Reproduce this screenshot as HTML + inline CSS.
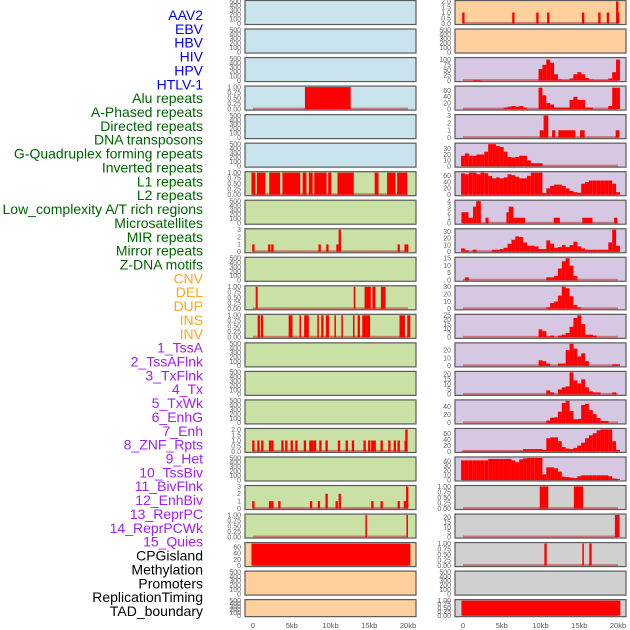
<!DOCTYPE html>
<html><head><meta charset="utf-8">
<style>
html,body{margin:0;padding:0;background:#fff;}
svg{display:block;font-family:"Liberation Sans",sans-serif;}
</style></head>
<body>
<svg id="chart" width="630" height="630" viewBox="0 0 630 630" xmlns="http://www.w3.org/2000/svg">
<g id="labels" font-size="14" text-anchor="end"></g>
<g id="panels"></g>
<g id="xaxis" font-size="7.5" fill="#555" text-anchor="middle"></g>
</svg>
<script>
// ---------- labels ----------
const labelNames = ["AAV2","EBV","HBV","HIV","HPV","HTLV-1","Alu repeats","A-Phased repeats","Directed repeats","DNA transposons","G-Quadruplex forming repeats","Inverted repeats","L1 repeats","L2 repeats","Low_complexity A/T rich regions","Microsatellites","MIR repeats","Mirror repeats","Z-DNA motifs","CNV","DEL","DUP","INS","INV","1_TssA","2_TssAFlnk","3_TxFlnk","4_Tx","5_TxWk","6_EnhG","7_Enh","8_ZNF_Rpts","9_Het","10_TssBiv","11_BivFlnk","12_EnhBiv","13_ReprPC","14_ReprPCWk","15_Quies","CPGisland","Methylation","Promoters","ReplicationTiming","TAD_boundary"];
const labelGroups = [6,13,5,15,5];
const groupColors = ["#0000ff","#006400","#ffa520","#a020f0","#000000"];

// ---------- x axis ----------
const xTickValues = [0,5,10,15,20];
const xTickLabels = ["0","5kb","10kb","15kb","20kb"];

// ---------- tick sets ----------
const ticksEmpty = [0,100,200,300,400,500];
const ticksUnit = [0,0.25,0.5,0.75,1];
const ticksUnitLbl = ["0.00","0.25","0.50","0.75","1.00"];
const ticksHalf = [0,0.5,1,1.5,2];
const ticksHalfLbl = ["0.0","0.5","1.0","1.5","2.0"];

// ---------- left column data (bars: start kb, end kb, value) ----------
const aluStarts=[6.7], aluEnds=[12.6], aluValues=[1];
const l1LeftStarts=[-0.2,0.5,2.1,3.8,6.4,7.2,7.9,9.7,10.9,15.7,17.3,18.6];
const l1LeftEnds=[0.3,1.6,3.5,6.1,6.9,7.7,9.5,10.1,13.0,16.2,18.4,19.9];
const l1LeftValues=[1,1,1,1,1,1,1,1,1,1,1,1];
const lowCxLeftPos=[0.05,2.1,2.5,8.6,9.6,10.9,11.2,18.8,19.7,19.9];
const lowCxLeftValues=[1,1,1,1,1,1,3,1,1,1];
const mirLeftStarts=[0.35,13.0,14.4,15.4,16.5], mirLeftEnds=[0.6,13.2,15.2,15.8,17.1], mirLeftValues=[1,1,1,1,1];
const zdnaLeftStarts=[0.6,1.0,4.6,6.0,6.6,8.3,8.8,9.4,10.5,11.4,12.9,13.5,14.1,14.7,18.9,19.9];
const zdnaLeftEnds=[0.9,1.3,5.1,6.2,7.2,8.5,9.1,9.8,10.7,11.6,13.1,13.8,14.7,15.1,19.6,20.3];
const zdnaLeftValues=[1,1,1,1,1,1,1,1,1,1,1,1,1,1,1,1];
const txwkPos=[0.05,0.7,1.2,2.2,2.5,3.8,4.3,5.0,5.6,6.7,7.4,7.7,8.0,8.7,9.5,11.1,12.1,12.9,14.4,15.0,15.4,15.7,16.6,17.6,18.3,18.8,19.7,19.8];
const txwkValues=[1,1,1,1,1,1,1,1,1,1,1,1,1,1,1,1,1,1,1,1,1,1,1,1,1,1,1,2];
const enhPos=[0.05,2.2,2.5,3.4,7.5,8.5,9.5,10.8,11.2,15.4,16.6,18.8,19.6,19.9];
const enhValues=[1,1,1,1,1,1,2,1,2,1,1,1,1,3];
const het2Starts=[14.5,19.8], het2Ends=[14.7,20.0], het2Values=[1,1];
const cpgLeftStarts=[-0.2], cpgLeftEnds=[20.3], cpgLeftValues=[72];

// ---------- right column data ----------
const aav2Pos=[0.05,6.5,9.6,11.0,15.5,17.6,18.7,19.9,20.0];
const aav2Values=[1,1,1,1,1,1,1,2,1];
// profiles: one value per 0.5 kb bin, kb 0..20
const hivValues=[0,0,0,3,3,0,0,0,0,0,0,0,0,0,0,0,0,0,0,0,55,75,100,85,30,5,3,3,10,30,40,30,12,5,3,3,3,3,10,40,100];
const hpvValues=[0,0,0,0,0,0,0,0,0,0,0,5,8,10,8,10,5,0,0,0,70,45,20,15,5,5,5,5,30,40,30,30,5,5,0,0,0,0,10,70,70];
const directedStarts=[9.9,10.4,11.5,12.3,15.1,19.7], directedEnds=[10.4,11.0,11.9,14.5,15.7,20.2], directedValues=[1,3,1,1,1,1];
const dnaValues=[18,22,18,18,20,20,25,38,38,35,33,25,16,15,16,18,18,10,5,5,5,0,0,0,0,0,0,0,0,0,0,0,0,0,0,0,0,0,0,0,0];
const l1Values=[68,65,70,70,65,70,68,60,52,55,52,55,65,62,57,52,52,60,70,70,70,5,20,28,32,32,28,20,12,8,6,35,40,45,45,45,45,45,45,35,8];
const l2Starts=[-0.2,0.7,1.3,1.7,2.9,5.6,5.9,6.5,11.7,15.4,19.5], l2Ends=[0.7,1.3,1.7,2.3,3.3,5.9,6.5,8.0,12.5,16.7,19.9], l2Values=[2,1,3,4,1,2,3,1,1,1,1];
const mirValues=[5,2,0,3,0,0,0,0,3,3,4,6,12,18,23,22,14,9,9,8,4,4,17,12,6,7,10,7,10,15,8,5,3,3,3,3,3,3,14,33,9];
const mirrorValues=[0,2,0,0,0,0,0,0,0,0,0,0,0,0,0,0,0,0,0,0,0,0,2,2,3,8,13,15,10,3,0,0,0,0,0,0,0,0,0,0,0];
const cnvValues=[0,0,0,0,0,0,0,0,0,0,0,0,0,0,0,0,0,0,0,0,0,0,2,8,10,18,30,28,17,5,2,0,0,0,0,0,0,0,0,0,0];
const delValues=[0,0,0,0,0,0,0,0,0,0,0,0,0,0,0,0,0,0,0,0,9,7,1,2,0,2,3,5,12,22,25,15,3,3,2,0,0,0,0,0,0];
const dupValues=[0,0,0,0,0,0,0,0,0,0,0,0,0,0,0,0,0,0,0,0,7,6,3,0,0,3,3,20,28,22,12,16,6,0,0,0,0,0,0,2,2];
const insValues=[0,0,0,0,0,0,0,0,0,0,0,0,0,0,0,0,0,0,0,0,0,0,4,2,0,5,7,8,22,14,11,15,7,3,2,2,0,0,0,2,0];
const invValues=[0,0,0,0,0,0,0,0,0,0,0,0,0,0,0,0,0,0,0,0,0,0,6,13,14,28,50,55,30,9,10,45,48,32,22,12,5,5,0,0,0];
const tssaValues=[2,2,2,2,2,2,2,2,2,2,2,2,2,2,2,2,8,8,8,8,8,5,45,48,48,35,15,10,8,12,20,30,45,55,62,72,75,75,75,35,5];
const tssaFlnkValues=[42,42,42,42,42,42,42,45,45,45,45,45,45,42,38,44,46,47,47,47,47,12,27,27,25,18,7,6,5,4,8,10,10,10,10,10,10,10,8,3,2];
const txFlnkStarts=[9.9,14.3], txFlnkEnds=[11.0,15.5], txFlnkValues=[1,1];
const txStarts=[19.6], txEnds=[20.2], txValues=[22];
const cpgRightStarts=[10.5,15.4,16.3], cpgRightEnds=[10.8,15.6,16.6], cpgRightValues=[1,1,1];
const tadStarts=[-0.2], tadEnds=[20.3], tadValues=[1];

// ---------- layout ----------
const NS="http://www.w3.org/2000/svg";
const colX=[245,455], colW=171;
function xScale(col,kb){return colX[col]+8+kb*7.75;}
function rowTop(r){return 0.5+28.53*r;}
function rowH(r){return r===21?17:24;}
const BLUE="#c8e3ec",GREEN="#c9e1a4",PEACH="#ffd09e",LAV="#d6c7e3",GREY="#d0d0d0";

function mk(tag,attrs,parent){const e=document.createElementNS(NS,tag);for(const k in attrs)e.setAttribute(k,attrs[k]);parent.appendChild(e);return e;}

// labels
const lg=document.getElementById('labels');
let gi=0,cnt=0;
labelNames.forEach((n,i)=>{
  if(cnt>=labelGroups[gi]){gi++;cnt=0;}
  cnt++;
  const t=mk('text',{x:203,y:(20+13.86*i).toFixed(1),fill:groupColors[gi]},lg);
  
  
  t.textContent=n;
});

// panel definitions
const E={type:'empty',ymax:500,ticks:ticksEmpty};
function bars(s,e,v,ymax,ticks,lbl){return {type:'bars',starts:s,ends:e,values:v,ymax,ticks,lbl};}
function pins(p,v,ymax,ticks,lbl){return {type:'pins',pos:p,values:v,ymax,ticks,lbl};}
function prof(v,ymax,ticks){return {type:'profile',values:v,ymax,ticks};}
const leftPanels=[E,E,E,
  bars(aluStarts,aluEnds,aluValues,1,ticksUnit,ticksUnitLbl),E,E,
  bars(l1LeftStarts,l1LeftEnds,l1LeftValues,1,ticksUnit,ticksUnitLbl),E,
  pins(lowCxLeftPos,lowCxLeftValues,3,[0,1,2,3]),E,
  bars(mirLeftStarts,mirLeftEnds,mirLeftValues,1,ticksUnit,ticksUnitLbl),
  bars(zdnaLeftStarts,zdnaLeftEnds,zdnaLeftValues,1,ticksUnit,ticksUnitLbl),E,E,E,
  pins(txwkPos,txwkValues,2,ticksHalf,ticksHalfLbl),E,
  pins(enhPos,enhValues,3,[0,1,2,3]),
  bars(het2Starts,het2Ends,het2Values,1,ticksUnit,ticksUnitLbl),
  bars(cpgLeftStarts,cpgLeftEnds,cpgLeftValues,72,[0,20,40,60]),E,E];
const rightPanels=[
  pins(aav2Pos,aav2Values,2,ticksHalf,ticksHalfLbl),E,
  prof(hivValues,105,[0,25,50,75,100]),
  prof(hpvValues,72,[0,20,40,60]),
  bars(directedStarts,directedEnds,directedValues,3,[0,1,2,3]),
  prof(dnaValues,38,[0,10,20,30]),
  prof(l1Values,70,[0,20,40,60]),
  bars(l2Starts,l2Ends,l2Values,4,[0,1,2,3,4]),
  prof(mirValues,33,[0,10,20,30]),
  prof(mirrorValues,15,[0,5,10,15]),
  prof(cnvValues,30,[0,10,20,30]),
  prof(delValues,25,[0,5,10,15,20,25]),
  prof(dupValues,28,[0,10,20]),
  prof(insValues,22,[0,5,10,15,20]),
  prof(invValues,55,[0,20,40]),
  prof(tssaValues,75,[0,20,40,60]),
  prof(tssaFlnkValues,47,[0,10,20,30,40]),
  bars(txFlnkStarts,txFlnkEnds,txFlnkValues,1,ticksUnit,ticksUnitLbl),
  bars(txStarts,txEnds,txValues,22,[0,5,10,15,20]),
  bars(cpgRightStarts,cpgRightEnds,cpgRightValues,1,ticksUnit,ticksUnitLbl),E,
  bars(tadStarts,tadEnds,tadValues,1,ticksUnit,ticksUnitLbl)];

function bgFor(col,r){
  if(col===0)return r<6?BLUE:(r<19?GREEN:PEACH);
  return r<2?PEACH:(r<17?LAV:GREY);
}

const pg=document.getElementById('panels');
function drawPanel(col,r,p){
  const top=rowTop(r),h=rowH(r),x0=colX[col];
  const g=mk('g',{},pg);
  
  
  const bg=mk('rect',{x:x0,y:top,width:colW,height:h,fill:bgFor(col,r),stroke:'#5a5a5a','stroke-width':1.2},g);
  
  
  const yb=top+h-1,span=h-2;
  const yS=v=>yb-Math.min(v,p.ymax)/p.ymax*span;
  // ticks
  p.ticks.forEach((tv,i)=>{
    const t=mk('text',{x:x0-4,y:(yS(tv)+2.3).toFixed(1),'font-size':7,fill:'#666','text-anchor':'end'},g);
    
    
    t.textContent=p.lbl?p.lbl[i]:String(tv);
  });
  if(p.type==='empty')return;
  const base=mk('rect',{x:xScale(col,0),y:yb-1.5,width:xScale(col,20)-xScale(col,0),height:2,fill:'rgba(190,50,50,0.55)'},g);
  
  
  const addBar=(s,e,v)=>{
    if(v<=0)return;
    const xa=xScale(col,s),xb=xScale(col,e);
    const b=mk('rect',{x:xa.toFixed(2),y:yS(v).toFixed(2),width:Math.max(1.2,xb-xa).toFixed(2),height:(yb-yS(v)).toFixed(2),fill:'#ff0000'},g);
    
    
  };
  if(p.type==='bars')p.starts.forEach((s,i)=>addBar(s,p.ends[i],p.values[i]));
  if(p.type==='pins')p.pos.forEach((s,i)=>addBar(s-0.15,s+0.15,p.values[i]));
  if(p.type==='profile')p.values.forEach((v,i)=>addBar(i*0.5-0.25,i*0.5+0.25,v));
}
leftPanels.forEach((p,r)=>drawPanel(0,r,p));
rightPanels.forEach((p,r)=>drawPanel(1,r,p));

// x axis
const xg=document.getElementById('xaxis');
[0,1].forEach(col=>{
  xTickValues.forEach((v,i)=>{
    const t=mk('text',{x:xScale(col,v).toFixed(1),y:628},xg);
    
    
    t.textContent=xTickLabels[i];
  });
});
</script>
</body></html>
